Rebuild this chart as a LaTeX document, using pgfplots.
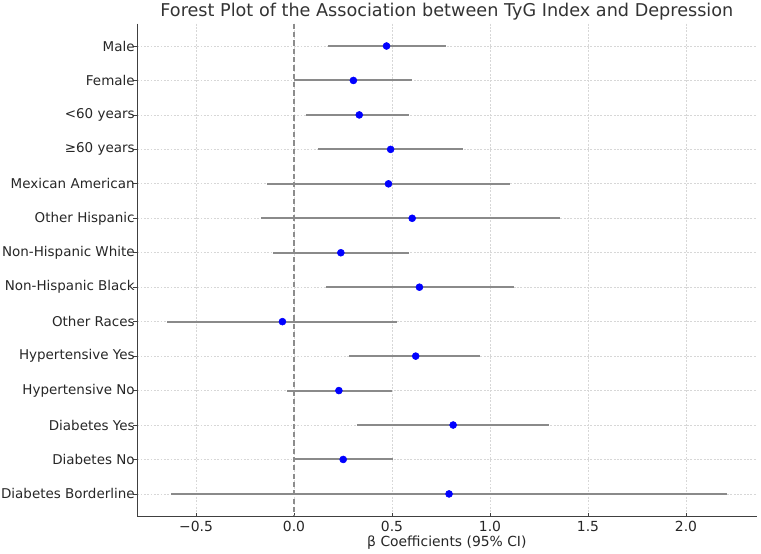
\documentclass[border=0pt]{standalone}
\usepackage{fontspec}
\setmainfont{DejaVu Sans}
\usepackage{pgfplots}
\usepackage{pgfplotstable}
\pgfplotsset{compat=1.18}
\definecolor{ci}{RGB}{138,138,138}
\definecolor{zl}{RGB}{140,140,140}
\definecolor{txt}{RGB}{38,38,38}
\definecolor{gridc}{RGB}{215,215,215}
\pgfplotstableread{
y x lo hi
0 0.472 0.174 0.773
1 0.303 0.000 0.601
2 0.333 0.061 0.589
3 0.493 0.123 0.861
4 0.482 -0.137 1.100
5 0.603 -0.170 1.359
6 0.239 -0.108 0.589
7 0.640 0.164 1.122
8 -0.059 -0.648 0.527
9 0.621 0.282 0.951
10 0.229 -0.037 0.501
11 0.812 0.323 1.300
12 0.251 0.000 0.507
13 0.791 -0.630 2.210
}\data
\begin{document}
\begin{tikzpicture}
\begin{axis}[
  name=ax,
  scale only axis,
  width=446pt, height=354.8pt,
  xmin=-0.8, xmax=2.36,
  ymin=-0.65, ymax=13.65,
  y dir=reverse,
  axis lines*=left,
  axis line style={color=black!75, line width=0.6pt},
  every tick/.style={color=black!75, line width=0.6pt},
  xtick align=inside,
  ytick align=outside,
  major tick length=2.7pt,
  xtick={-0.5,0,0.5,1,1.5,2},
  xticklabels={−0.5,0.0,0.5,1.0,1.5,2.0},
  ytick={0,...,13},
  yticklabels={Male,Female,<60 years,≥60 years,Mexican American,Other Hispanic,Non-Hispanic White,Non-Hispanic Black,Other Races,Hypertensive Yes,Hypertensive No,Diabetes Yes,Diabetes No,Diabetes Borderline},
  xticklabel style={font=\fontsize{10}{12}\selectfont, color=txt},
  yticklabel style={font=\fontsize{9.7}{12}\selectfont, color=txt, xshift=4.4pt},
  grid=major,
  major grid style={color=gridc, line width=0.5pt, dash pattern=on 1.4pt off 1pt},
  title={Forest Plot of the Association between TyG Index and Depression},
  title style={at={(axis description cs:0.5,1)}, anchor=base, yshift=-1pt, font=\fontsize{12.7}{15}\selectfont, color=black!80},
  xlabel={β Coefficients (95\% CI)},
  xlabel style={at={(axis description cs:0.5,0)}, anchor=base, yshift=-21.5pt, font=\fontsize{10}{12}\selectfont, color=txt},
  clip=false,
]
\addplot[color=zl, line width=1.3pt, dash pattern=on 3.8pt off 2.2pt] coordinates {(0,-0.65) (0,13.65)};
\addplot[draw=none, mark=none,
  error bars/.cd, x dir=both, x explicit, error mark=none,
  error bar style={color=ci, line width=1.45pt}]
  table[x=x, y=y, x error plus expr=\thisrow{hi}-\thisrow{x}, x error minus expr=\thisrow{x}-\thisrow{lo}] {\data};
\addplot[only marks, mark=*, mark size=2.5pt, color=blue, mark options={fill=blue, draw=blue}] table[x=x, y=y] {\data};
\end{axis}
\pgfresetboundingbox
\path[use as bounding box] ([xshift=-98.8pt, yshift=-27.1pt]ax.south west) rectangle ([xshift=3.2pt, yshift=17pt]ax.north east);
\end{tikzpicture}
\end{document}
